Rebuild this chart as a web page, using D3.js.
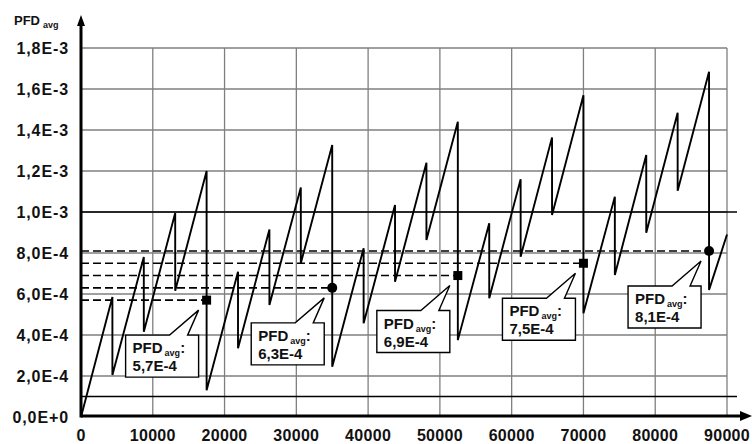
<!DOCTYPE html>
<html>
<head>
<meta charset="utf-8">
<script src="https://cdn.jsdelivr.net/npm/d3@7"></script>
<style>
  body { margin: 0; background: #fff; }
  text { font-family: "Liberation Sans", Arial, sans-serif; font-weight: bold; fill: #111; }
</style>
</head>
<body>
<svg id="chart"></svg>
<script>
// proof test times (hours) with PFD just before and just after each test
const testTimes = [4375, 8750, 13125, 17500, 21875, 26250, 30625, 35000, 39375, 43750,
                   48125, 52500, 56875, 61250, 65625, 70000, 74375, 78750, 83125, 87500];
const pfdBefore = [5.85e-4, 7.8e-4, 9.95e-4, 1.2e-3, 7.09e-4, 9.15e-4, 1.12e-3, 1.327e-3, 8.23e-4, 1.034e-3,
                   1.24e-3, 1.44e-3, 9.45e-4, 1.16e-3, 1.364e-3, 1.57e-3, 1.075e-3, 1.278e-3, 1.484e-3, 1.684e-3];
const pfdAfter  = [2.05e-4, 4.16e-4, 6.16e-4, 1.3e-4, 3.35e-4, 5.46e-4, 7.5e-4, 2.45e-4, 4.57e-4, 6.6e-4,
                   8.63e-4, 3.75e-4, 5.79e-4, 7.82e-4, 9.85e-4, 5.06e-4, 6.93e-4, 8.99e-4, 1.104e-3, 6.2e-4];
const startPoint = [0, 0];
const endPoint = [90000, 8.9e-4];

// average PFD after each full test cycle
const avgTimes = [17500, 35000, 52500, 70000, 87500];
const avgValues = [5.7e-4, 6.3e-4, 6.9e-4, 7.5e-4, 8.1e-4];
const avgLabels = ["5,7E-4", "6,3E-4", "6,9E-4", "7,5E-4", "8,1E-4"];

// SIL boundary lines
const limits = [1e-4, 1e-3];

const xTicks = [0, 10000, 20000, 30000, 40000, 50000, 60000, 70000, 80000, 90000];
const yTicks = [0, 2e-4, 4e-4, 6e-4, 8e-4, 1e-3, 1.2e-3, 1.4e-3, 1.6e-3, 1.8e-3];
const yTickLabels = ["0,0E+0", "2,0E-4", "4,0E-4", "6,0E-4", "8,0E-4", "1,0E-3", "1,2E-3", "1,4E-3", "1,6E-3", "1,8E-3"];

const width = 752;
const height = 444;

const svg = d3.select("#chart")
    .attr("width", width)
    .attr("height", height);

const x = d3.scaleLinear().domain([0, 90000]).range([81, 727]);
const y = d3.scaleLinear().domain([0, 1.8e-3]).range([417, 48]);

// grid
svg.append("g")
    .selectAll("line")
    .data(xTicks.slice(1))
    .enter()
    .append("line")
    .attr("x1", d => x(d)).attr("x2", d => x(d))
    .attr("y1", y(0)).attr("y2", y(1.8e-3))
    .attr("stroke", "#7f7f7f")
    .attr("stroke-width", 1.3);

svg.append("g")
    .selectAll("line")
    .data(yTicks.slice(1))
    .enter()
    .append("line")
    .attr("x1", x(0)).attr("x2", x(90000))
    .attr("y1", d => y(d)).attr("y2", d => y(d))
    .attr("stroke", "#7f7f7f")
    .attr("stroke-width", 1.3);

// limit lines
svg.append("g")
    .selectAll("line")
    .data(limits)
    .enter()
    .append("line")
    .attr("x1", x(0)).attr("x2", 737)
    .attr("y1", d => y(d)).attr("y2", d => y(d))
    .attr("stroke", "#000")
    .attr("stroke-width", 1.6);

// sawtooth
const points = [startPoint];
testTimes.forEach((t, i) => {
    points.push([t, pfdBefore[i]]);
    points.push([t, pfdAfter[i]]);
});
points.push(endPoint);

svg.append("path")
    .datum(points)
    .attr("fill", "none")
    .attr("stroke", "#000")
    .attr("stroke-width", 1.9)
    .attr("d", d3.line().x(d => x(d[0])).y(d => y(d[1])));

// average lines
svg.append("g")
    .selectAll("line")
    .data(avgValues)
    .enter()
    .append("line")
    .attr("x1", x(0))
    .attr("x2", (d, i) => x(avgTimes[i]))
    .attr("y1", d => y(d)).attr("y2", d => y(d))
    .attr("stroke", "#000")
    .attr("stroke-width", 1.6)
    .attr("stroke-dasharray", "8,4");

// markers
avgValues.forEach((v, i) => {
    const cx = x(avgTimes[i]), cy = y(v);
    if (i === 1 || i === 4) {
        svg.append("circle").attr("cx", cx).attr("cy", cy).attr("r", 5).attr("fill", "#000");
    } else {
        svg.append("rect").attr("x", cx - 4.5).attr("y", cy - 4.5)
            .attr("width", 9).attr("height", 9).attr("fill", "#000");
    }
});

// callouts
avgValues.forEach((v, i) => {
    const mx = x(avgTimes[i]), my = y(v);
    const right = mx - 8, left = right - 73;
    const top = my + 35, bottom = top + 42;
    const tipX = mx - 8, tipY = my + 10;
    const g = svg.append("g");
    g.append("path")
        .attr("d", `M${left},${top} L${left + 44},${top} L${tipX},${tipY} L${left + 62},${top} L${right},${top} L${right},${bottom} L${left},${bottom} Z`)
        .attr("fill", "#fff")
        .attr("stroke", "#000")
        .attr("stroke-width", 1.4);
    const t1 = g.append("text")
        .attr("x", left + 7)
        .attr("y", top + 18)
        .attr("font-size", 15);
    t1.append("tspan").text("PFD");
    t1.append("tspan").attr("font-size", 9).attr("dy", 3).attr("dx", 2).text("avg");
    t1.append("tspan").attr("dy", -3).text(":");
    g.append("text")
        .attr("x", left + 7)
        .attr("y", top + 36)
        .attr("font-size", 15)
        .text(avgLabels[i]);
});

// axes
svg.append("line")
    .attr("x1", x(0)).attr("x2", 744)
    .attr("y1", 416).attr("y2", 416)
    .attr("stroke", "#000").attr("stroke-width", 3);
svg.append("path")
    .attr("d", "M752,416 L740,411 L740,421 Z")
    .attr("fill", "#000");

svg.append("line")
    .attr("x1", x(0)).attr("x2", x(0))
    .attr("y1", 417.5).attr("y2", 24)
    .attr("stroke", "#000").attr("stroke-width", 3);
svg.append("path")
    .attr("d", `M${x(0)},15 L${x(0) - 4},26 L${x(0) + 4},26 Z`)
    .attr("fill", "#000");

// tick labels
svg.append("g")
    .selectAll("text")
    .data(xTicks)
    .enter()
    .append("text")
    .attr("x", d => x(d))
    .attr("y", 441)
    .attr("text-anchor", "middle")
    .attr("font-size", 16)
    .attr("letter-spacing", 0.3)
    .text(d => d);

svg.append("g")
    .selectAll("text")
    .data(yTicks)
    .enter()
    .append("text")
    .attr("x", 69)
    .attr("y", d => y(d) + 5.5)
    .attr("text-anchor", "end")
    .attr("font-size", 16)
    .attr("letter-spacing", 0.9)
    .text((d, i) => yTickLabels[i]);

// axis title
const title = svg.append("text")
    .attr("x", 14)
    .attr("y", 25)
    .attr("font-size", 13);
title.append("tspan").text("PFD");
title.append("tspan").attr("font-size", 9).attr("dy", 3).attr("dx", 3).text("avg");
</script>
</body>
</html>
